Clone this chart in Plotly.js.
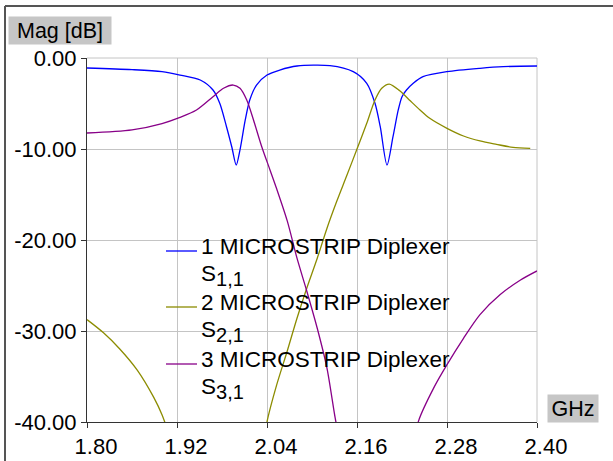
<!DOCTYPE html>
<html>
<head>
<meta charset="utf-8">
<script src="https://cdn.plot.ly/plotly-3.0.1.min.js"></script>
<style>
html, body { margin: 0; padding: 0; background: #ffffff; }
#chart { width: 613px; height: 461px; }
</style>
</head>
<body>
<div id="chart"></div>
<script>
// ---- Data (frequency in GHz, magnitude in dB) ----
var s11Freq = [1.800, 1.860, 1.900, 1.924, 1.951, 1.968, 1.977, 1.986, 1.993, 1.999, 2.004, 2.011, 2.017, 2.026, 2.040, 2.057, 2.080, 2.124, 2.155, 2.173, 2.184, 2.191, 2.200, 2.208, 2.215, 2.220, 2.226, 2.235, 2.248, 2.280, 2.324, 2.355, 2.400];
var s11Mag  = [-1.10, -1.28, -1.50, -1.87, -2.42, -3.52, -4.98, -7.55, -9.75, -11.76, -10.10, -6.81, -4.62, -2.97, -1.87, -1.32, -0.88, -0.84, -1.50, -2.78, -4.98, -7.55, -11.76, -8.65, -5.71, -4.25, -3.52, -2.78, -2.05, -1.50, -1.13, -0.95, -0.88];

var s21Freq = [1.800, 1.822, 1.844, 1.867, 1.889, 1.900, 1.910, null, 2.036, 2.040, 2.053, 2.067, 2.080, 2.093, 2.107, 2.120, 2.133, 2.146, 2.160, 2.173, 2.184, 2.193, 2.203, 2.217, 2.231, 2.244, 2.257, 2.280, 2.302, 2.324, 2.346, 2.368, 2.391];
var s21Mag  = [-28.75, -30.2, -32.0, -34.3, -37.3, -39.2, -41.5, null, -42.5, -40.0, -35.9, -32.2, -28.6, -25.3, -22.0, -18.7, -15.75, -13.0, -10.0, -7.18, -4.62, -3.33, -2.86, -3.60, -4.70, -5.71, -6.63, -7.73, -8.57, -9.12, -9.49, -9.82, -9.93];

var s31Freq = [1.800, 1.860, 1.900, 1.924, 1.946, 1.968, 1.982, 1.995, 2.004, 2.013, 2.022, 2.033, 2.044, 2.053, 2.067, 2.080, 2.093, 2.107, 2.120, 2.131, 2.138, null, 2.236, 2.242, 2.262, 2.280, 2.302, 2.324, 2.351, 2.378, 2.400];
var s31Mag  = [-8.24, -7.90, -7.20, -6.52, -5.71, -4.25, -3.33, -2.97, -3.33, -4.62, -6.81, -9.75, -12.3, -14.4, -17.9, -22.0, -25.6, -29.7, -34.1, -39.6, -42.5, null, -42.5, -39.9, -36.3, -33.7, -30.8, -28.2, -26.0, -24.4, -23.4];

var seriesTitles = ['1 MICROSTRIP Diplexer', '2 MICROSTRIP Diplexer', '3 MICROSTRIP Diplexer'];
var seriesParams = ['1,1', '2,1', '3,1'];
var seriesColors = ['#0000ff', '#8c8c00', '#880088'];

var xTickVals = [1.80, 1.92, 2.04, 2.16, 2.28, 2.40];
var xTickText = ['1.80', '1.92', '2.04', '2.16', '2.28', '2.40'];
var yTickVals = [0, -10, -20, -30, -40];
var yTickText = ['0.00', '-10.00', '-20.00', '-30.00', '-40.00'];

var yAxisLabel = 'Mag [dB]';
var xAxisLabel = 'GHz';

// ---- Figure ----
var FONT = 'Liberation Sans, Arial, sans-serif';
var FS = 22;
var LFS = 22.5;

// plot area in pixels (for converting legend placement to paper units)
var PL = 87, PT = 58, PW = 450, PH = 364;
function px2x(p) { return (p - PL) / PW; }
function px2y(p) { return (PT + PH - p) / PH; }

function mk(x, y, i) {
  return {
    x: x, y: y, type: 'scatter', mode: 'lines', name: seriesTitles[i] + ' S' + seriesParams[i],
    line: { color: seriesColors[i], width: 1.3, shape: 'spline', smoothing: 0.8 },
    connectgaps: false, hoverinfo: 'skip', showlegend: false
  };
}

var data = [mk(s11Freq, s11Mag, 0), mk(s21Freq, s21Mag, 1), mk(s31Freq, s31Mag, 2)];

var shapes = [
  { type: 'line', xref: 'paper', yref: 'paper', x0: 0, x1: 1, y0: 1, y1: 1, line: { color: '#c4c4c4', width: 1 }, layer: 'below' },
  { type: 'line', xref: 'paper', yref: 'paper', x0: 1, x1: 1, y0: 0, y1: 1, line: { color: '#c4c4c4', width: 1 }, layer: 'below' },
  { type: 'line', xref: 'paper', yref: 'paper', x0: px2x(5), x1: px2x(640), y0: px2y(6), y1: px2y(6), line: { color: '#555555', width: 2 } },
  { type: 'line', xref: 'paper', yref: 'paper', x0: px2x(5), x1: px2x(5), y0: px2y(480), y1: px2y(6), line: { color: '#555555', width: 2 } }
];

var annotations = [
  { text: yAxisLabel, xref: 'paper', yref: 'paper', x: px2x(8), y: px2y(16), xanchor: 'left', yanchor: 'top',
    showarrow: false, bgcolor: '#c6c6c6', width: 102, height: 27, borderpad: 0, align: 'center', valign: 'middle',
    font: { family: FONT, size: 21.5, color: '#000000' } },
  { text: xAxisLabel, xref: 'paper', yref: 'paper', x: px2x(547), y: px2y(394), xanchor: 'left', yanchor: 'top',
    showarrow: false, bgcolor: '#c6c6c6', width: 50, height: 27, borderpad: 0, align: 'center', valign: 'middle',
    font: { family: FONT, size: 21.5, color: '#000000' } }
];

// legend (line sample + two text lines per series)
var legendRowTop = [238, 294, 351];
for (var i = 0; i < 3; i++) {
  var rowTop = legendRowTop[i];
  shapes.push({ type: 'line', xref: 'paper', yref: 'paper', x0: px2x(166), x1: px2x(197),
    y0: px2y(rowTop + 13), y1: px2y(rowTop + 13), line: { color: seriesColors[i], width: 1.3 } });
  annotations.push({ text: seriesTitles[i], xref: 'paper', yref: 'paper', x: px2x(200), y: px2y(rowTop - 5.5),
    xanchor: 'left', yanchor: 'top', showarrow: false, borderpad: 0,
    font: { family: FONT, size: LFS, color: '#000000' } });
  annotations.push({ text: 'S<sub><span style="font-size:20px">' + seriesParams[i] + '</span></sub>',
    xref: 'paper', yref: 'paper', x: px2x(200), y: px2y(rowTop + 21.5),
    xanchor: 'left', yanchor: 'top', showarrow: false, borderpad: 0,
    font: { family: FONT, size: LFS, color: '#000000' } });
}

var layout = {
  width: 613, height: 461,
  margin: { l: PL, r: 613 - PL - PW, t: PT, b: 461 - PT - PH, pad: 0 },
  paper_bgcolor: '#ffffff', plot_bgcolor: '#ffffff',
  font: { family: FONT, size: FS, color: '#000000' },
  showlegend: false,
  xaxis: {
    range: [1.8, 2.4], tickmode: 'array', tickvals: xTickVals, ticktext: xTickText,
    showgrid: true, gridcolor: '#c4c4c4', gridwidth: 1,
    showline: true, linecolor: '#333333', linewidth: 1,
    ticks: 'outside', ticklen: 5, tickcolor: '#333333', tickwidth: 1,
    ticklabelshift: 9,
    zeroline: false, fixedrange: true,
    tickfont: { family: FONT, size: FS, color: '#000000' }
  },
  yaxis: {
    range: [-40, 0], tickmode: 'array', tickvals: yTickVals, ticktext: yTickText,
    showgrid: true, gridcolor: '#c4c4c4', gridwidth: 1,
    showline: true, linecolor: '#333333', linewidth: 1,
    ticks: 'outside', ticklen: 5, tickcolor: '#333333', tickwidth: 1,
    zeroline: false, fixedrange: true,
    tickfont: { family: FONT, size: FS, color: '#000000' }
  },
  shapes: shapes,
  annotations: annotations,
  hovermode: false
};

Plotly.newPlot('chart', data, layout, { staticPlot: true, displayModeBar: false });
</script>
</body>
</html>
